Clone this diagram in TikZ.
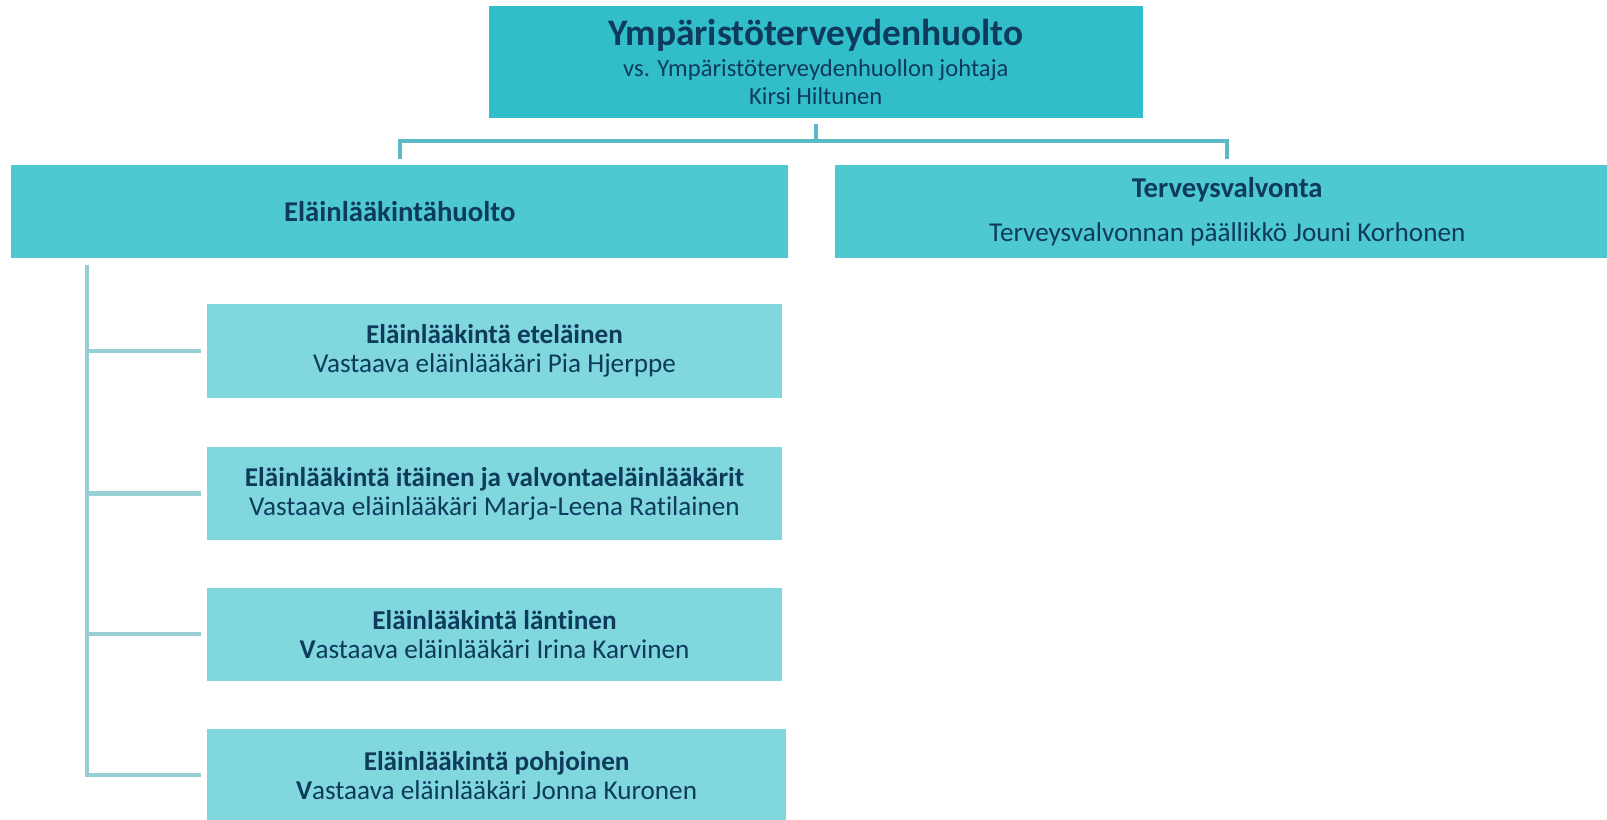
\documentclass[tikz,border=0pt]{standalone}
\usepackage{fontspec}
\setmainfont{Carlito}[Ligatures={NoCommon}]
\usetikzlibrary{calc}
\definecolor{topfill}{HTML}{31BECA}
\definecolor{midfill}{HTML}{4EC8D1}
\definecolor{childfill}{HTML}{80D7DE}
\definecolor{topline}{HTML}{5BBAC5}
\definecolor{treecol}{HTML}{98CFD5}
\definecolor{txt}{HTML}{0E3A5C}
\tikzset{
  box/.style={draw=none, inner sep=0pt, align=center, text=txt},
  topbox/.style={box, fill=topfill, minimum width=638pt, minimum height=109pt},
  midbox/.style={box, fill=midfill, minimum height=91pt},
  childbox/.style={box, fill=childfill, minimum height=91pt, font=\fontsize{26.5}{28}\selectfont},
  upconn/.style={draw=topline, line width=4pt},
  treeconn/.style={draw=treecol, line width=4pt}
}
\begin{document}
\begin{tikzpicture}[x=1pt,y=-1pt]
\useasboundingbox (0,0) rectangle (1568,800);
\node[topbox, font=\fontsize{24}{26}\selectfont] (top) at (796,60.5)
  {{\fontsize{36.5}{36}\selectfont\bfseries Ympäristöterveydenhuolto}\\[4pt]
   vs. Ympäristöterveydenhuollon johtaja\\[1pt]
   Kirsi Hiltunen};
\node[midbox, minimum width=758pt, font=\fontsize{28}{30}\selectfont\bfseries] (left) at (390,206.5)
  {Eläinlääkintähuolto};
\node[midbox, minimum width=765pt, font=\fontsize{26.5}{30}\selectfont] (right) at (1197.5,206.5)
  {{\fontsize{28}{30}\selectfont\bfseries Terveysvalvonta}\\[11pt]
   \raisebox{-2pt}{Terveysvalvonnan päällikkö Jouni Korhonen}};
\node[childbox, minimum width=561pt] (c1) at (482.5,342.5)
  {\textbf{Eläinlääkintä eteläinen}\\Vastaava eläinlääkäri Pia Hjerppe};
\node[childbox, minimum width=561pt] (c2) at (482.5,481.5)
  {\textbf{Eläinlääkintä itäinen ja valvontaeläinlääkärit}\\Vastaava eläinlääkäri Marja-Leena Ratilainen};
\node[childbox, minimum width=561pt] (c3) at (482.5,619)
  {\textbf{Eläinlääkintä läntinen}\\\textbf{V}astaava eläinlääkäri Irina Karvinen};
\node[childbox, minimum width=565pt] (c4) at (484.5,756.5)
  {\textbf{Eläinlääkintä pohjoinen}\\\textbf{V}astaava eläinlääkäri Jonna Kuronen};
% top connectors
\draw[upconn] ($(top.south)+(0,6)$) -- ($(top.south)+(0,22)$);
\draw[upconn] ($(left.north)+(0,-6)$) |- ($(top.south)+(0,22)$) -| ($(right.north)+(0,-6)$);
% tree
\draw[treeconn] ($(left.south west)+(74,6)$) |- ($(c4.west)+(-6,0)$);
\draw[treeconn] ($(c1.west)+(-6,0)$) -- ($(c1.west)+(-117,0)$);
\draw[treeconn] ($(c2.west)+(-6,0)$) -- ($(c2.west)+(-117,0)$);
\draw[treeconn] ($(c3.west)+(-6,0)$) -- ($(c3.west)+(-117,0)$);
\end{tikzpicture}
\end{document}
